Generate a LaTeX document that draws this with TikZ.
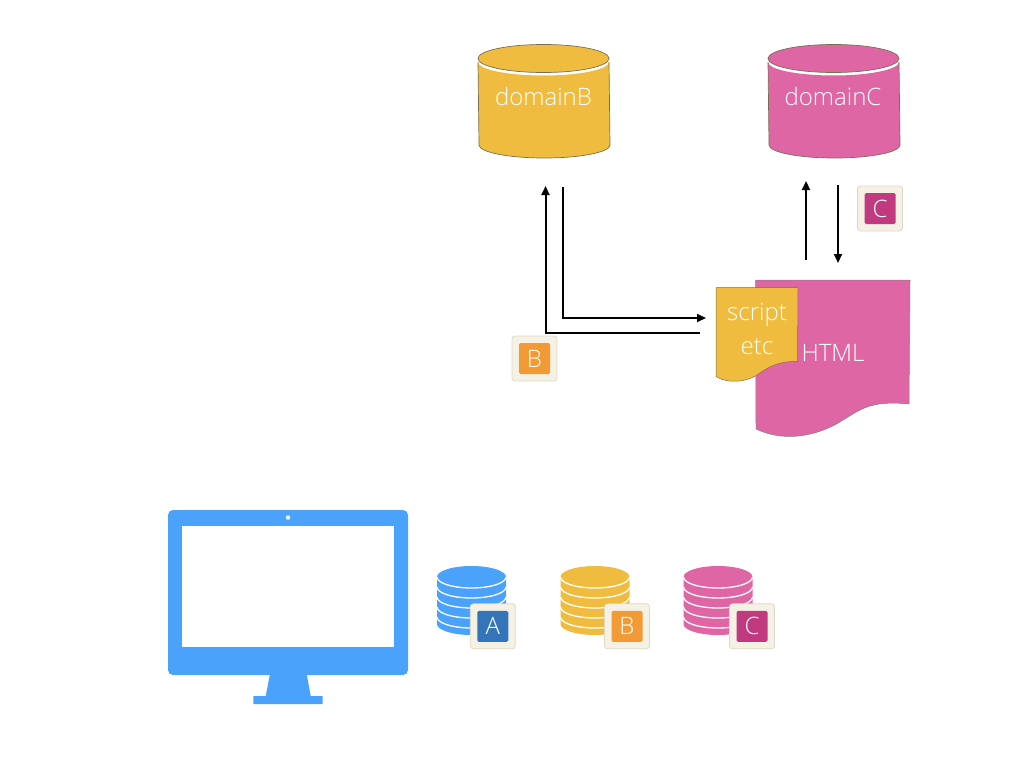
\documentclass[tikz,border=0pt]{standalone}
\usepackage{fontspec}
\setmainfont[UprightFont={* Light}]{Open Sans}
\usetikzlibrary{arrows.meta, positioning, shapes.geometric}
\definecolor{appYellow}{HTML}{F0BC40}
\definecolor{appPink}{HTML}{DF66A4}
\definecolor{appBlue}{HTML}{4AA2FB}
\definecolor{tagCream}{HTML}{F5F2E5}
\definecolor{tagEdge}{HTML}{DDD9C8}
\definecolor{tagBlue}{HTML}{3375B8}
\definecolor{tagOrange}{HTML}{F29A36}
\definecolor{tagPink}{HTML}{C13A80}
\definecolor{edgeDark}{HTML}{7A6E50}
\tikzset{
  arrowK/.style={-{Triangle[length=9pt, width=8pt]}, black, line width=2pt},
  textW/.style={text=white, font=\fontsize{24}{28}\selectfont, inner sep=0pt},
  tagBase/.style={rectangle, rounded corners=3pt, fill=tagCream, draw=tagEdge,
                  line width=0.8pt, minimum size=45pt, inner sep=0pt},
  tagFace/.style={rectangle, rounded corners=1.5pt, fill=#1, text=white, minimum size=31pt,
                  inner sep=0pt, font=\fontsize{24}{28}\selectfont},
  pics/dbcyl/.style={code={
    \fill[#1] (-65.5,-39) -- (-64.5,44)
      arc[start angle=180, end angle=0, x radius=65.5, y radius=13] -- (65.5,-39)
      arc[start angle=0, end angle=180, x radius=65.5, y radius=13.5] -- cycle;
    \draw[draw=edgeDark, line width=0.7pt] (-65.5,-39) -- (-64.5,44)
      arc[start angle=180, end angle=0, x radius=65.5, y radius=13] -- (65.5,-39);
    \draw[fill=#1, draw=edgeDark, line width=0.7pt] (0,-42.5) ellipse[x radius=65.5, y radius=14];
  }},
  pics/dbstack/.style={code={
    \fill[#1] (-34.5,0) -- (-34.5,47) arc[start angle=180, end angle=0, x radius=34.5, y radius=11]
      -- (34.5,0) arc[start angle=0, end angle=-180, x radius=34.5, y radius=11] -- cycle;
    \foreach \yy in {0,10,20,30,40}
      \draw[white, line width=1.3pt] (-34.5,\yy) arc[start angle=180, end angle=0, x radius=34.5, y radius=11];
  }},
}
\begin{document}
\begin{tikzpicture}[x=1pt, y=-1pt]
  \useasboundingbox (0,0) rectangle (1024,768);
  % databases on top
  \pic at (543.5,101) {dbcyl=appYellow};
  \pic at (833.5,101) {dbcyl=appPink};
  \node[textW] (domainB) at (543.5,96) {domainB};
  \node[textW] (domainC) at (833,96) {domainC};
  % page and script
  \draw[fill=appPink, draw=gray, line width=0.5pt] (755.7,280) -- (910,280) -- (909,404)
    .. controls (870,400) and (860,410) .. (843,420)
    .. controls (825,432) and (790,445) .. (756,429) -- cycle;
  \node[textW] (html) at (833,353) {HTML};
  \draw[fill=appYellow, draw=edgeDark, line width=0.5pt] (716,287.5) -- (798,287.5) -- (797.5,361.5)
    .. controls (780,361) and (770,366) .. (760,373)
    .. controls (750,381) and (730,385) .. (716,376.5) -- cycle;
  \node[textW] (script) at (757,315) {script};
  \node[textW] (etc) at (757,347) {etc};
  % arrows
  \coordinate (bUp) at (545.5,186);
  \coordinate (bBack) at (700,332.5);
  \coordinate (bDown) at (562.5,187);
  \coordinate (bIn) at (706,318);
  \coordinate (cUp) at (806,181);
  \coordinate (cFrom) at (806,260);
  \coordinate (cDown) at (838,185);
  \coordinate (cTo) at (838,263);
  \draw[arrowK] (bBack) -| (bUp);
  \draw[arrowK] (bDown) |- (bIn);
  \draw[arrowK] (cFrom) -- (cUp);
  \draw[arrowK] (cDown) -- (cTo);
  % tags
  \node[tagBase] (tagB) at (534.5,358.5) {};
  \node[tagFace=tagOrange] (faceB) at (tagB) {B};
  \node[tagBase] (tagC) at (880,208.5) {};
  \node[tagFace=tagPink] (faceC) at (tagC) {C};
  % monitor
  \fill[appBlue, rounded corners=5pt] (168,510) rectangle (408,675);
  \fill[appBlue] (270,674) -- (306.7,674) -- (310.7,696) -- (322.7,696) -- (322.7,704)
    -- (253.3,704) -- (253.3,696) -- (265.7,696) -- cycle;
  \fill[white] (182,526) rectangle (394,646.7);
  \fill[white] (288,517.5) circle[radius=2.2];
  % local stores
  \pic at (471.5,577) {dbstack=appBlue};
  \pic at (595,577) {dbstack=appYellow};
  \pic at (718,577) {dbstack=appPink};
  \node[tagBase] (tagLA) at (492.8,626.3) {};
  \node[tagFace=tagBlue] (faceLA) at (tagLA) {A};
  \node[tagBase] (tagLB) at (627,626.3) {};
  \node[tagFace=tagOrange] (faceLB) at (tagLB) {B};
  \node[tagBase] (tagLC) at (752,626.3) {};
  \node[tagFace=tagPink] (faceLC) at (tagLC) {C};
\end{tikzpicture}
\end{document}
